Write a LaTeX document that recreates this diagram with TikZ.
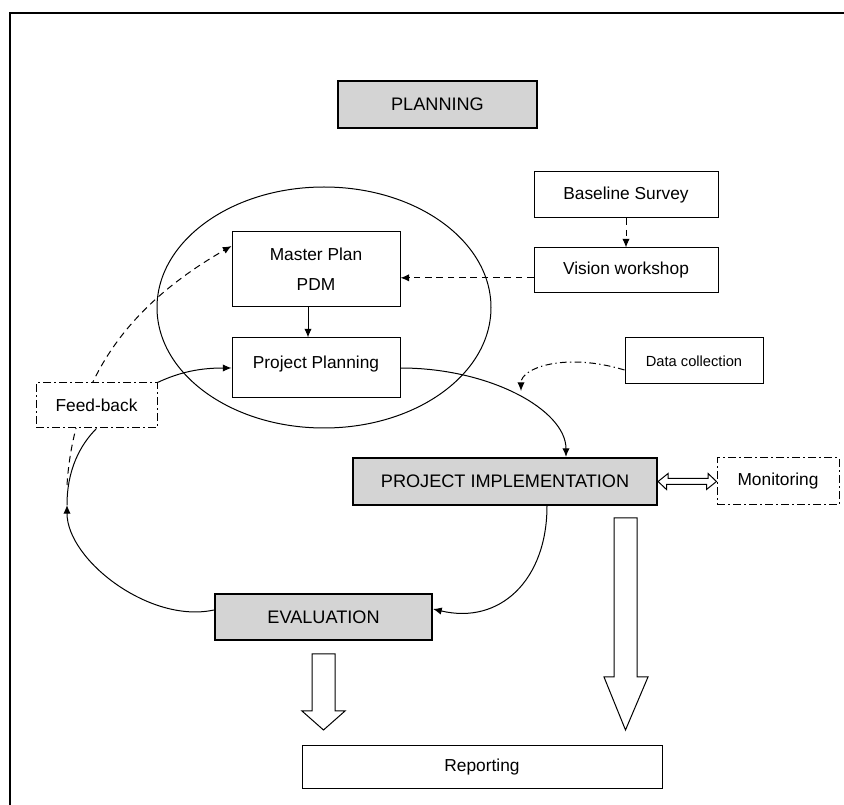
\documentclass[tikz,border=0pt]{standalone}
\usepackage{fontspec}
\setmainfont{Liberation Sans}
\usetikzlibrary{arrows.meta}

\tikzset{every picture/.style={line width=0.75pt}}

\begin{document}
\begin{tikzpicture}[x=0.75pt,y=0.75pt,yscale=-1,xscale=1,
  >={Latex[length=6.5pt,width=5.5pt]},
  box/.style={draw, fill=white, inner sep=0.75pt, align=center, font=\fontsize{13}{22.5}\selectfont},
  graybox/.style={box, fill=black!17, line width=1.6pt, font=\fontsize{13.6}{16}\selectfont},
  dashbox/.style={box, dash pattern=on 6pt off 2.5pt on 1pt off 2.5pt},
  dashline/.style={dash pattern=on 5pt off 3.5pt},
  dotline/.style={dash pattern=on 5pt off 2.5pt on 1pt off 2.5pt}]
\useasboundingbox (0,0) rectangle (844,805);
% Frame
\draw [line width=1.5pt] (10,805) -- (10,13) -- (844,13) ;
%Shape: Ellipse
\draw (324,307.5) ellipse [x radius=167, y radius=120.5];

% Text Node
\node [graybox, minimum width=149.25pt, minimum height=35.25pt] (plan) at (437.5,104.5) {PLANNING};
\node [box, minimum width=126pt, minimum height=56.25pt] (mp) at (316,269.5) {Master Plan\\PDM};
\node [box, minimum width=126pt, minimum height=45pt, text depth=9pt] (pp) at (316,368) {Project Planning};
\node [box, minimum width=138pt, minimum height=34.5pt] (bs) at (626,195) {Baseline Survey};
\node [box, minimum width=138pt, minimum height=33.75pt] (vw) at (626,270.5) {Vision workshop};
\node [box, minimum width=103.5pt, minimum height=34.5pt, font=\fontsize{11}{13}\selectfont] (dc) at (694,361) {Data collection};
\node [graybox, minimum width=228pt, minimum height=35.25pt] (pi) at (505,481.5) {PROJECT IMPLEMENTATION};
\node [dashbox, minimum width=91.5pt, minimum height=35.25pt] (mon) at (778,481.5) {Monitoring};
\node [graybox, minimum width=162.75pt, minimum height=34.5pt] (ev) at (323.5,617) {EVALUATION};
\node [box, minimum width=270pt, minimum height=32.25pt] (rep) at (482,767.5) {Reporting};

\coordinate (fbdash) at (67,485);
\coordinate (loopup) at (67,505);
\coordinate (dctip) at (521,391);

%Curve Lines
\draw [->, dashline] (fbdash) .. controls (75,360) and (150,293) .. ([yshift=-17.6pt]mp.west);
\node [dashbox, minimum width=90.75pt, minimum height=33.75pt] (fb) at (96.5,405.5) {Feed-back};

%Straight Lines
\draw [->] ([xshift=-6pt]mp.south) -- ([xshift=-6pt]pp.north);
\draw [->, dashline] (bs) -- (vw);
\draw [->, dashline] ([yshift=5.5pt]vw.west) -- ([yshift=5.5pt]vw.west -| mp.east);

%Curve Lines
\draw [->] (pp.east) .. controls (490,368) and (566,410) .. ([xshift=45.75pt]pi.north);
\draw [->, dotline] ([yshift=6.75pt]dc.west) .. controls (565,352) and (521,368) .. (dctip);
\draw [->] ([xshift=31.5pt]pi.south) .. controls (547,580) and (500,625) .. ([yshift=-6pt]ev.east);
\draw [->] ([yshift=-5.25pt]ev.west) .. controls (150,624) and (67,560) .. (loopup);
\draw (loopup) .. controls (67,470) and (80,445) .. (fb.south);
\draw [->] (fb.north east) .. controls (180,372) and (200,368) .. (pp.west);

%Shape: Double Arrow
\draw (pi.east) -- ++(10,-8) -- ++(0,5) -- ++(40,0) -- ++(0,-5) -- (mon.west) -- ++(-10,8) -- ++(0,-5) -- ++(-40,0) -- ++(0,5) -- cycle;
%Shape: Down Arrow
\draw (312,654) -- (335,654) -- (335,711) -- (345,711) -- (323.5,730) -- (302,711) -- (312,711) -- cycle;
\draw (614,518) -- (637,518) -- (637,677) -- (648,677) -- (625.5,730) -- (604,677) -- (614,677) -- cycle;
\end{tikzpicture}
\end{document}
